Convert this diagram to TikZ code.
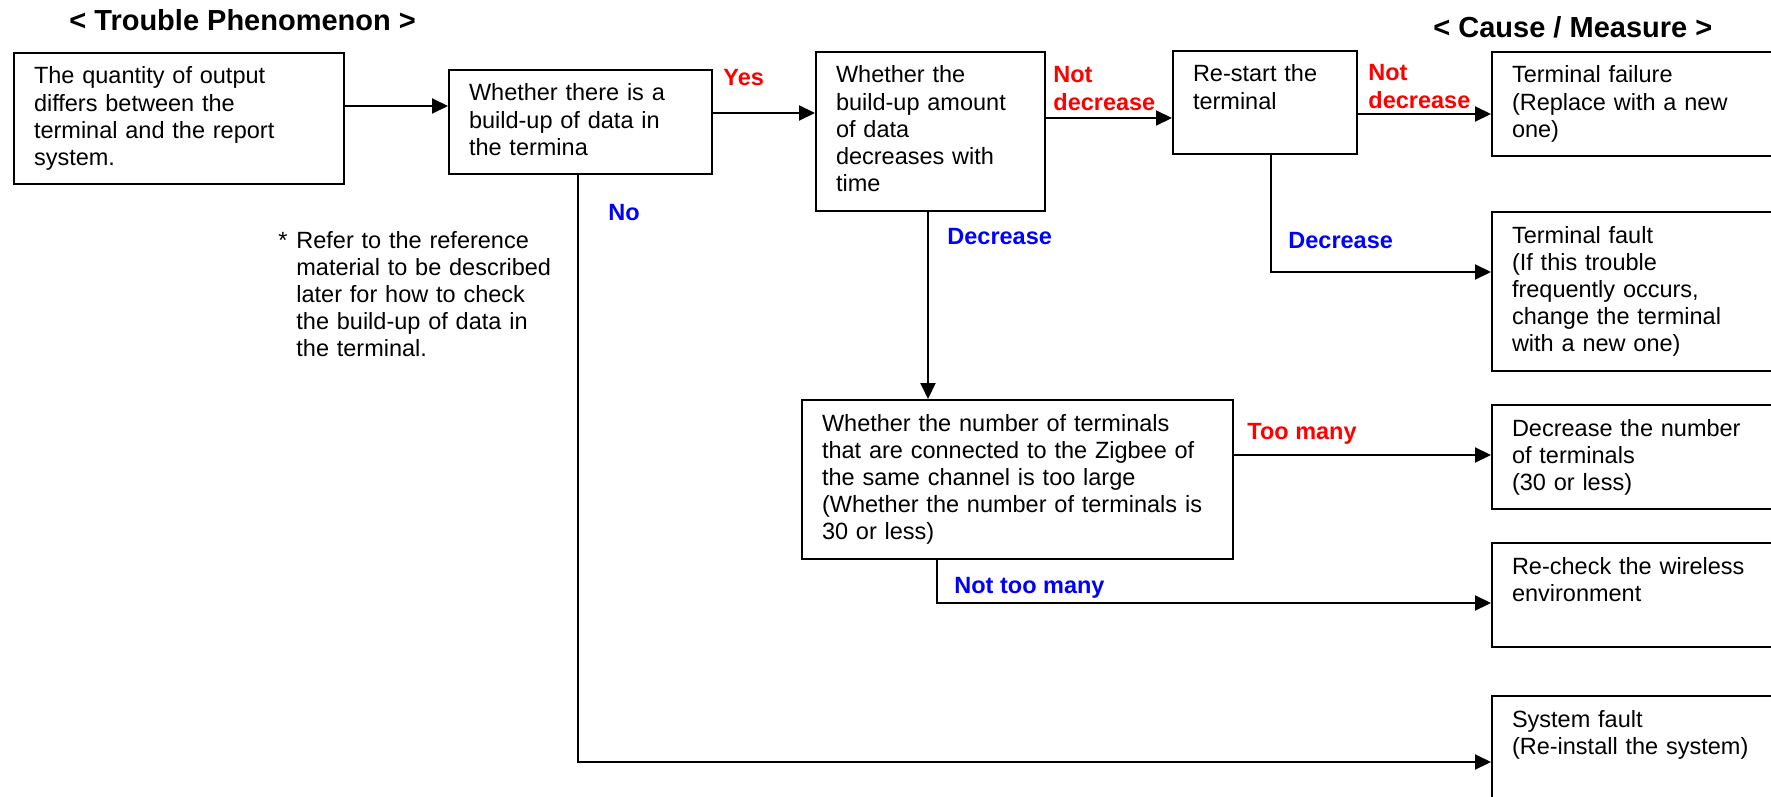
\documentclass[tikz,border=0pt]{standalone}
\usepackage{fontspec}
\setmainfont{Liberation Sans}
\usetikzlibrary{arrows.meta}

\tikzset{
  box/.style={draw, line width=1pt, anchor=north west, inner xsep=10pt, inner ysep=0pt,
    text height=15.5pt, align=left},
  lab/.style={anchor=base west, inner sep=0pt, font=\bfseries},
  ttl/.style={anchor=base west, inner sep=0pt, font=\fontsize{14.5pt}{17pt}\selectfont\bfseries},
  flow/.style={line width=1pt, -{Triangle[length=8pt,width=7.5pt]}}
}

\begin{document}
\fontsize{11.75pt}{13.6pt}\selectfont
\begin{tikzpicture}[x=0.5pt, y=-0.5pt]

      \clip (0,0) rectangle (1771,797);

      \node[ttl] (T1) at (69,31) {< Trouble Phenomenon >};
      \node[ttl] (T2) at (1433,38) {< Cause / Measure >};

      % questions
      \node[box, text width=145pt, text depth=50pt] (P) at (13,52)
        {The quantity of output\\differs between the\\terminal and the report\\system.};
      \node[box, text width=111.5pt, text depth=36.5pt] (Q1) at (448,69)
        {Whether there is a\\build-up of data in\\the termina};
      \node[box, text width=94.5pt, text depth=64pt] (Q2) at (815,51)
        {Whether the\\build-up amount\\of data\\decreases with\\time};
      \node[box, text width=72pt, text depth=36pt] (R) at (1172,50)
        {Re-start the\\terminal};
      \node[box, text width=195.5pt, text depth=64pt] (Q3) at (801,399)
        {Whether the number of terminals\\that are connected to the Zigbee of\\the same channel is too large\\(Whether the number of terminals is\\30 or less)};

      % causes and measures
      \node[box, text width=134.5pt, text depth=36.5pt] (M1) at (1491,51)
        {Terminal failure\\(Replace with a new\\one)};
      \node[box, text width=134.5pt, text depth=64pt] (M2) at (1491,211)
        {Terminal fault\\(If this trouble\\frequently occurs,\\change the terminal\\with a new one)};
      \node[box, text width=134.5pt, text depth=36.5pt] (M3) at (1491,404)
        {Decrease the number\\of terminals\\(30 or less)};
      \node[box, text width=134.5pt, text depth=36.5pt] (M4) at (1491,542)
        {Re-check the wireless\\environment};
      \node[box, text width=134.5pt, text depth=39.5pt] (M5) at (1491,695)
        {System fault\\(Re-install the system)};

      \node[anchor=base west, inner sep=0pt] (S) at (278,248) {*};
      \node[anchor=base west, inner sep=0pt, text width=140pt, align=left] (N) at (296,248)
        {Refer to the reference\\material to be described\\later for how to check\\the build-up of data in\\the terminal.};

      \draw[flow] (P.east |- 0,106) -- (Q1.west |- 0,106);
      \draw[flow] (Q1.east |- 0,113) -- (Q2.west |- 0,113);
      \draw[flow] (Q2.east |- 0,118) -- (R.west |- 0,118);
      \draw[flow] (R.east |- 0,114) -- (M1.west |- 0,114);
      \draw[flow] (R.south -| 1271,0) |- (M2.west |- 0,272);
      \draw[flow] (Q2.south -| 928,0) -- (Q3.north -| 928,0);
      \draw[flow] (Q3.east |- 0,455) -- (M3.west |- 0,455);
      \draw[flow] (Q3.south -| 937,0) |- (M4.west |- 0,603);
      \draw[flow] (Q1.south -| 578,0) |- (M5.west |- 0,762);

      \node[lab, red] (yes) at (723,86) {Yes};
      \node[lab, red, text width=60pt] (nd1) at (1053,83) {Not\\decrease};
      \node[lab, red, text width=60pt] (nd2) at (1368,81) {Not\\decrease};
      \node[lab, blue] (no) at (608,220) {No};
      \node[lab, blue] (d1) at (947,244) {Decrease};
      \node[lab, blue] (d2) at (1288,248) {Decrease};
      \node[lab, red] (tm) at (1247,439) {Too many};
      \node[lab, blue] (ntm) at (954,593) {Not too many};

\end{tikzpicture}
\end{document}
